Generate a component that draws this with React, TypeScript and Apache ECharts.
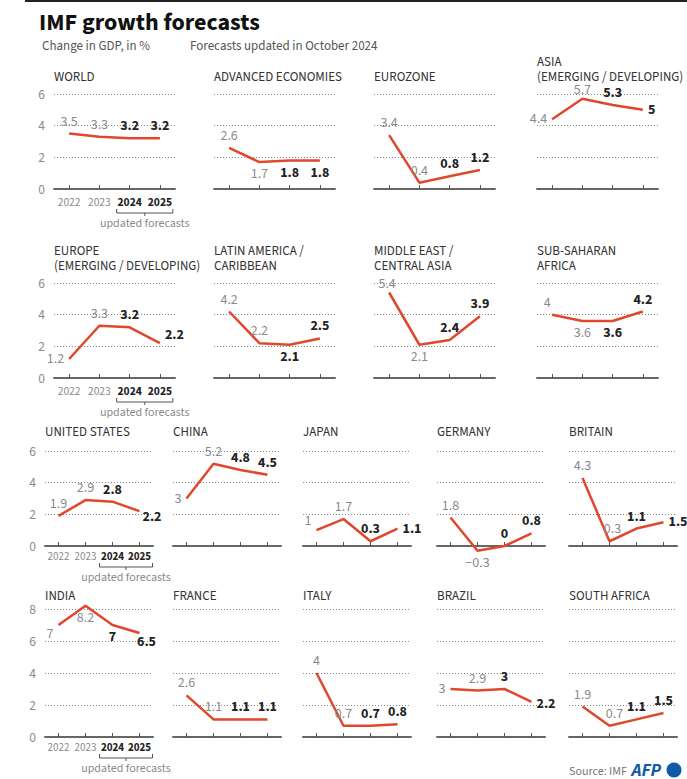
import React, { useEffect, useRef } from "react";
import * as echarts from "echarts";

// ---- data ----
const years = ["2022", "2023", "2024", "2025"];
const world = [3.5, 3.3, 3.2, 3.2];
const advanced = [2.6, 1.7, 1.8, 1.8];
const eurozone = [3.4, 0.4, 0.8, 1.2];
const asia = [4.4, 5.7, 5.3, 5.0];
const europe = [1.2, 3.3, 3.2, 2.2];
const latam = [4.2, 2.2, 2.1, 2.5];
const mideast = [5.4, 2.1, 2.4, 3.9];
const ssa = [4.0, 3.6, 3.6, 4.2];
const us = [1.9, 2.9, 2.8, 2.2];
const china = [3.0, 5.2, 4.8, 4.5];
const japan = [1.0, 1.7, 0.3, 1.1];
const germany = [1.8, -0.3, 0.0, 0.8];
const britain = [4.3, 0.3, 1.1, 1.5];
const india = [7.0, 8.2, 7.0, 6.5];
const france = [2.6, 1.1, 1.1, 1.1];
const italy = [4.0, 0.7, 0.7, 0.8];
const brazil = [3.0, 2.9, 3.0, 2.2];
const southAfrica = [1.9, 0.7, 1.1, 1.5];

// ---- layout ----
type LP = string | [string, number, number];
const rows = [
  { top: 94, height: 95, max: 6, lefts: [54, 214, 374, 537], width: 121, titleY: 77, yearMargin: 7, bracket: 24, yearFont: 11.5 },
  { top: 283, height: 95, max: 6, lefts: [54, 214, 374, 537], width: 121, titleY: 266, yearMargin: 7, bracket: 24, yearFont: 11.5 },
  { top: 451, height: 95, max: 6, lefts: [45, 173, 303, 437, 569], width: 108, titleY: 432, yearMargin: 5, bracket: 21, yearFont: 11 },
  { top: 609, height: 128, max: 8, lefts: [45, 173, 303, 437, 569], width: 108, titleY: 596, yearMargin: 5, bracket: 21, yearFont: 11 },
];

const panels: { row: number; col: number; title: string[]; values: number[]; labels: LP[] }[] = [
  { row: 0, col: 0, title: ["WORLD"], values: world, labels: ["t", "t", "t", "t"] },
  { row: 0, col: 1, title: ["ADVANCED ECONOMIES"], values: advanced, labels: ["t", "b", "b", "b"] },
  { row: 0, col: 2, title: ["EUROZONE"], values: eurozone, labels: ["t", "t", "t", "t"] },
  { row: 0, col: 3, title: ["ASIA", "(EMERGING / DEVELOPING)"], values: asia, labels: ["l", ["t", 0, 3], "t", "r"] },
  { row: 1, col: 0, title: ["EUROPE", "(EMERGING / DEVELOPING)"], values: europe, labels: ["l", "t", "t", ["r", 0, -8]] },
  { row: 1, col: 1, title: ["LATIN AMERICA /", "CARIBBEAN"], values: latam, labels: ["t", "t", "b", "t"] },
  { row: 1, col: 2, title: ["MIDDLE EAST /", "CENTRAL ASIA"], values: mideast, labels: [["t", -2, 3], "b", "t", "t"] },
  { row: 1, col: 3, title: ["SUB-SAHARAN", "AFRICA"], values: ssa, labels: [["t", -5, 0], "b", "b", "t"] },
  { row: 2, col: 0, title: ["UNITED STATES"], values: us, labels: ["t", "t", "t", ["r", -2, 6]] },
  { row: 2, col: 1, title: ["CHINA"], values: china, labels: ["l", "t", "t", "t"] },
  { row: 2, col: 2, title: ["JAPAN"], values: japan, labels: [["l", 0, -9], "t", "t", "r"] },
  { row: 2, col: 3, title: ["GERMANY"], values: germany, labels: ["t", "b", "t", "t"] },
  { row: 2, col: 4, title: ["BRITAIN"], values: britain, labels: ["t", ["t", 3, 0], "t", "r"] },
  { row: 3, col: 0, title: ["INDIA"], values: india, labels: [["l", 0, 9], "b", "b", ["b", 7, -3]] },
  { row: 3, col: 1, title: ["FRANCE"], values: france, labels: ["t", "t", "t", "t"] },
  { row: 3, col: 2, title: ["ITALY"], values: italy, labels: ["t", "t", "t", "t"] },
  { row: 3, col: 3, title: ["BRAZIL"], values: brazil, labels: ["l", "t", "t", ["r", 0, 2]] },
  { row: 3, col: 4, title: ["SOUTH AFRICA"], values: southAfrica, labels: ["t", ["t", 5, 0], "t", "t"] },
];

const FONT = "'Source Sans 3', 'Source Sans Pro', Lato, sans-serif";
const RED = "#e0472c";
const GREY = "#8a8a8a";
const DARK = "#222";
const posMap: Record<string, string> = { t: "top", b: "bottom", l: "left", r: "right" };

function fmt(v: number) {
  const s = String(v);
  return v < 0 ? "\u2212" + s.slice(1) : s;
}

export default function App() {
  const ref = useRef<HTMLDivElement>(null);
  useEffect(() => {
    if (!ref.current) return;
    const chart = echarts.init(ref.current, undefined, { renderer: "svg" });
    const grid: any[] = [];
    const xAxis: any[] = [];
    const yAxis: any[] = [];
    const series: any[] = [];
    const graphic: any[] = [];

    graphic.push({ type: "rect", shape: { x: 25, y: 0, width: 662, height: 2 }, style: { fill: "#222" } });
    graphic.push({
      type: "text", x: 39, y: 22,
      style: { text: "IMF growth forecasts", font: `bold 24px ${FONT}`, fill: "#111", verticalAlign: "middle", lineHeight: 24 },
    });
    graphic.push({
      type: "text", x: 42, y: 46,
      style: { text: "Change in GDP, in %", font: `13px ${FONT}`, fill: "#555", verticalAlign: "middle" },
    });
    graphic.push({
      type: "text", x: 190, y: 46,
      style: { text: "Forecasts updated in October 2024", font: `13px ${FONT}`, fill: "#555", verticalAlign: "middle" },
    });

    panels.forEach((p, i) => {
      const r = rows[p.row];
      const left = r.lefts[p.col];
      const first = p.col === 0;
      grid.push({ left, top: r.top, width: r.width, height: r.height, containLabel: false });
      xAxis.push({
        type: "category", gridIndex: i, data: years, boundaryGap: true,
        axisLine: { lineStyle: { color: "#666", width: 2 } },
        axisTick: { show: true, inside: true, length: 4, alignWithLabel: true, lineStyle: { color: "#555", width: 1 } },
        axisLabel: {
          show: first, margin: r.yearMargin, interval: 0,
          formatter: (v: string, idx: number) => (idx >= 2 ? `{b|${v}}` : `{n|${v}}`),
          rich: {
            n: { color: GREY, fontSize: r.yearFont, fontFamily: FONT },
            b: { color: DARK, fontSize: r.yearFont, fontWeight: "bold", fontFamily: FONT },
          },
        },
        splitLine: { show: false },
      });
      yAxis.push({
        type: "value", gridIndex: i, min: 0, max: r.max, interval: 2,
        axisLine: { show: false }, axisTick: { show: false },
        axisLabel: { show: first, color: GREY, fontSize: 13.5, fontFamily: FONT, margin: 9 },
        splitLine: { show: true, lineStyle: { type: [1, 2], color: "#888", width: 1 } },
      });
      series.push({
        type: "line", xAxisIndex: i, yAxisIndex: i, clip: false, animation: false,
        symbol: "circle", symbolSize: 2, itemStyle: { color: "rgba(0,0,0,0)" },
        lineStyle: { color: RED, width: 2.5 },
        emphasis: { disabled: true },
        data: p.values.map((v, j) => {
          const spec = p.labels[j];
          const pos = typeof spec === "string" ? spec : spec[0];
          const off = typeof spec === "string" ? [0, 0] : [spec[1], spec[2]];
          const bold = j >= 2;
          return {
            value: v,
            label: {
              show: true, position: posMap[pos], offset: off, distance: 4,
              formatter: fmt(v),
              color: bold ? DARK : GREY, fontWeight: bold ? "bold" : "normal",
              fontSize: 14, fontFamily: FONT,
            },
          };
        }),
      });
      const n = p.title.length;
      p.title.forEach((line, k) => {
        graphic.push({
          type: "text", x: left, y: r.titleY - (n - 1 - k) * 15,
          style: { text: line, font: `13px ${FONT}`, fill: "#333", verticalAlign: "middle" },
        });
      });
      if (first) {
        const step = r.width / 4;
        const x1 = left + step * 2.5 - 13;
        const x2 = left + step * 3.5 + 13;
        const by = r.top + r.height + r.bracket;
        const mid = (x1 + x2) / 2;
        graphic.push({
          type: "polyline",
          shape: { points: [[x1, by - 4], [x1, by], [x2, by], [x2, by - 4]] },
          style: { stroke: "#555", lineWidth: 1, fill: null },
        });
        graphic.push({
          type: "line", shape: { x1: mid, y1: by, x2: mid, y2: by + 3 },
          style: { stroke: "#555", lineWidth: 1 },
        });
        graphic.push({
          type: "text", x: mid, y: by + 10,
          style: { text: "updated forecasts", font: `12px ${FONT}`, fill: GREY, align: "center", verticalAlign: "middle" },
        });
      }
    });

    graphic.push({
      type: "text", x: 569, y: 771,
      style: { text: "Source: IMF", font: `12px ${FONT}`, fill: "#777", verticalAlign: "middle" },
    });
    graphic.push({
      type: "text", x: 661, y: 770,
      style: { text: "AFP", font: `italic bold 18px ${FONT}`, fill: "#0f5ba8", align: "right", verticalAlign: "middle" },
    });
    graphic.push({ type: "circle", shape: { cx: 674, cy: 770, r: 7.5 }, style: { fill: "#0f5ba8" } });

    chart.setOption({
      animation: false,
      textStyle: { fontFamily: FONT },
      grid, xAxis, yAxis, series, graphic,
    });
    return () => chart.dispose();
  }, []);
  return (
    <div
      ref={ref}
      style={{ position: "fixed", left: 0, top: 0, width: 687, height: 779, background: "#fff" }}
    />
  );
}
